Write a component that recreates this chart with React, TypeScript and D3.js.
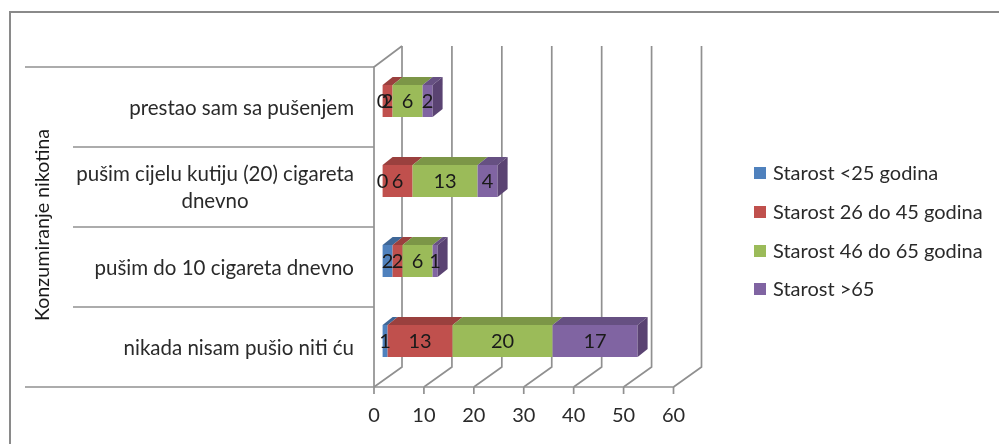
import React from "react";
import * as d3 from "d3";

const categories = [
  ["prestao sam sa pušenjem"],
  ["pušim cijelu kutiju (20) cigareta", "dnevno"],
  ["pušim do 10 cigareta dnevno"],
  ["nikada nisam pušio niti ću"],
];
const seriesNames = ["Starost <25 godina", "Starost 26 do 45 godina", "Starost 46 do 65 godina", "Starost >65"];
const under25 = [0, 0, 2, 1];
const from26to45 = [2, 6, 2, 13];
const from46to65 = [6, 13, 6, 20];
const over65 = [2, 4, 1, 17];
const seriesValues = [under25, from26to45, from46to65, over65];
const ticks = [0, 10, 20, 30, 40, 50, 60];
const axisTitle = "Konzumiranje nikotina";

const front = ["#4f81bd", "#c0504d", "#9bbb59", "#8064a2"];
const topFace = ["#3f6797", "#9a403e", "#7c9647", "#665082"];
const sideFace = ["#2f4d71", "#73302e", "#5d7035", "#5a4372"];
const FONT = "Lato, Carlito, sans-serif";
const GRID = "#909090";

export default function App() {
  const x = d3.scaleLinear().domain([0, 60]).range([374, 673.5]);
  const barX = d3.scaleLinear().domain([0, 60]).range([382.6, 682.6]);
  const band = d3.scaleBand<number>().domain([0, 1, 2, 3]).range([67, 387]);
  const wallDx = 28, wallDy = -20, depthDx = 10, depthDy = -8;
  const barH = 32;

  const stacks = categories.map((_, i) => {
    let acc = 0;
    return seriesValues.map((s) => {
      const v = s[i], a = acc;
      acc += v;
      return { v, a, b: acc };
    });
  });

  return (
    <svg width={999} height={444} style={{ position: "absolute", left: 0, top: 0, filter: "blur(0.45px)" }} fontFamily={FONT}>
      <rect width={999} height={444} fill="#fff" />
      <path d="M10,444V12H999" fill="none" stroke="#8a8a8a" strokeWidth={2} />

      {ticks.map((t) => (
        <g key={t} stroke={GRID} strokeWidth={1.7} fill="none">
          <path d={`M${x(t)},387L${x(t) + wallDx},${387 + wallDy}V46`} />
          <line x1={x(t)} x2={x(t)} y1={387} y2={394} />
        </g>
      ))}
      <path d={`M374,387V67L402,46`} fill="none" stroke={GRID} strokeWidth={1.7} />
      <line x1={25} x2={674} y1={387} y2={387} stroke={GRID} strokeWidth={1.7} />
      <line x1={25} x2={374} y1={67} y2={67} stroke={GRID} strokeWidth={1.7} />
      {[1, 2, 3].map((i) => (
        <line key={i} x1={73} x2={374} y1={band(i)!} y2={band(i)!} stroke={GRID} strokeWidth={1.7} />
      ))}

      {stacks.map((segs, i) => {
        const y0 = band(i)! + (band.bandwidth() - barH) / 2 - 6;
        const lastIdx = segs.reduce((m, s, j) => (s.v > 0 ? j : m), 0);
        return (
          <g key={i}>
            {segs.map((s, j) =>
              s.v === 0 ? null : (
                <g key={j}>
                  <path
                    d={`M${barX(s.a)},${y0}l${depthDx},${depthDy}H${barX(s.b) + depthDx}L${barX(s.b)},${y0}Z`}
                    fill={topFace[j]}
                  />
                  <rect x={barX(s.a)} y={y0} width={barX(s.b) - barX(s.a)} height={barH} fill={front[j]} />
                  {j === lastIdx && (
                    <path
                      d={`M${barX(s.b)},${y0}l${depthDx},${depthDy}v${barH}l${-depthDx},${-depthDy}Z`}
                      fill={sideFace[j]}
                    />
                  )}
                </g>
              )
            )}
            {segs.map((s, j) => (
              <text key={j} x={(barX(s.a) + barX(s.b)) / 2} y={y0 + 23} textAnchor="middle" fontSize={20} fill="#1a1a1a">
                {s.v}
              </text>
            ))}
          </g>
        );
      })}

      {categories.map((lines, i) => {
        const cy = band(i)! + band.bandwidth() / 2;
        const start = lines.length > 1 ? cy - 6 : cy + 8;
        return lines.map((l, k) => (
          <text
            key={k}
            x={lines.length > 1 && k === 1 ? 215 : 354}
            y={start + k * 27}
            textAnchor={lines.length > 1 && k === 1 ? "middle" : "end"}
            fontSize={20.5}
            fill="#2a2a2a"
          >
            {l}
          </text>
        ));
      })}

      <text transform="translate(49,225) rotate(-90)" textAnchor="middle" fontSize={19.7} fill="#1a1a1a">
        {axisTitle}
      </text>

      {ticks.map((t) => (
        <text key={t} x={x(t)} y={422} textAnchor="middle" fontSize={20} fill="#2a2a2a">
          {t}
        </text>
      ))}

      {seriesNames.map((n, i) => {
        const cy = [173, 212, 251, 289][i];
        return (
          <g key={n}>
            <rect x={754} y={cy - 6} width={12} height={12} fill={front[i]} />
            <text x={773} y={cy + 6.5} fontSize={20} fill="#2a2a2a">
              {n}
            </text>
          </g>
        );
      })}
    </svg>
  );
}
